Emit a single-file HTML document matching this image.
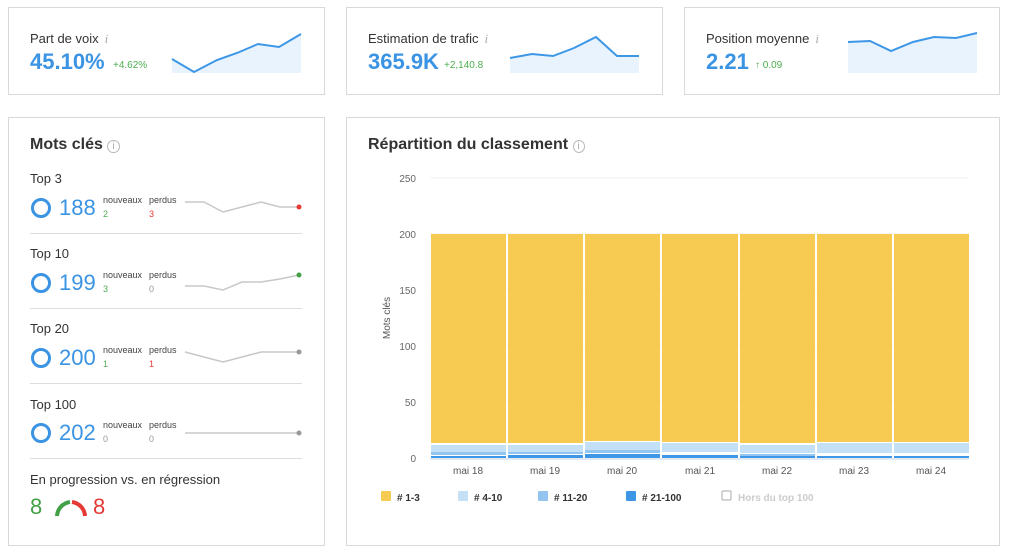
<!DOCTYPE html><html><head><meta charset="utf-8"><style>
body{margin:0;width:1010px;height:553px;background:#fff;font-family:"Liberation Sans",sans-serif;position:relative;overflow:hidden}
.card{position:absolute;border:1px solid #d9d9d9;background:#fff;box-sizing:border-box}
.t{position:absolute;font-size:13px;color:#333}
.big{position:absolute;font-size:22px;font-weight:bold;color:#3a93e3}
.d{position:absolute;font-size:10px;color:#4caf50}
.i{color:#aaa;font-style:italic;font-family:"Liberation Serif",serif;font-size:13px;margin-left:6px}
.sm{position:absolute;font-size:9px;color:#444}
.hr{position:absolute;left:30px;width:272px;height:1px;background:#ddd}
.ring{position:absolute;width:14px;height:14px;border:3px solid #3a93e3;border-radius:50%}
.num{position:absolute;font-size:22px;color:#3a93e3}
</style></head><body>
<div class="card" style="left:8px;top:7px;width:317px;height:88px"></div>
<div class="card" style="left:346px;top:7px;width:317px;height:88px"></div>
<div class="card" style="left:684px;top:7px;width:316px;height:88px"></div>
<div class="t" style="left:30px;top:31px">Part de voix<span class="i">i</span></div>
<div class="big" style="left:30px;top:49px">45.10%</div><div class="d" style="left:113px;top:60px">+4.62%</div>
<div class="t" style="left:368px;top:31px">Estimation de trafic<span class="i">i</span></div>
<div class="big" style="left:368px;top:49px">365.9K</div><div class="d" style="left:444px;top:60px">+2,140.8</div>
<div class="t" style="left:706px;top:31px">Position moyenne<span class="i">i</span></div>
<div class="big" style="left:706px;top:49px">2.21</div><div class="d" style="left:755px;top:60px">↑ 0.09</div>
<svg style="position:absolute;left:0;top:0" width="1010" height="553">
<g fill="#e8f3fd" stroke="none">
<polygon points="172,59 194,72 217,60 237,53 258,44 279,47 301,34 301,73 172,73"/>
<polygon points="510,58 532,54 553,56 574,48 596,37 617,56 639,56 639,73 510,73"/>
<polygon points="848,42 870,41 891,51 913,42 934,37 956,38 977,33 977,73 848,73"/>
</g>
<g fill="none" stroke="#3d97e6" stroke-width="2">
<polyline points="172,59 194,72 217,60 237,53 258,44 279,47 301,34"/>
<polyline points="510,58 532,54 553,56 574,48 596,37 617,56 639,56"/>
<polyline points="848,42 870,41 891,51 913,42 934,37 956,38 977,33"/>
</g>
<g fill="none" stroke="#c8c8c8" stroke-width="1.5">
<polyline points="185,202 204,202 223,212 242,207 261,202 280,207 299,207"/>
<polyline points="185,286 204,286 223,290 242,282 261,282 280,279 299,275"/>
<polyline points="185,352 204,357 223,362 242,357 261,352 280,352 299,352"/>
<polyline points="185,433 299,433"/>
</g>
<circle cx="299" cy="207" r="2.5" fill="#e53935"/><circle cx="299" cy="275" r="2.5" fill="#43a047"/>
<circle cx="299" cy="352" r="2.5" fill="#999"/><circle cx="299" cy="433" r="2.5" fill="#999"/>
<path d="M57,516 A15,15 0 0 1 70,502" stroke="#43a047" stroke-width="4" fill="none"/>
<path d="M72,502 A15,15 0 0 1 85,516" stroke="#e53935" stroke-width="4" fill="none"/>
<g stroke="#f0f0f0" stroke-width="1"><line x1="430" x2="969" y1="178" y2="178"/><line x1="430" x2="969" y1="234" y2="234"/><line x1="430" x2="969" y1="290" y2="290"/><line x1="430" x2="969" y1="346" y2="346"/><line x1="430" x2="969" y1="402" y2="402"/></g>
<g font-size="10" fill="#666" text-anchor="end" font-family="Liberation Sans"><text x="416" y="182">250</text><text x="416" y="238">200</text><text x="416" y="294">150</text><text x="416" y="350">100</text><text x="416" y="406">50</text><text x="416" y="462">0</text></g>
<text x="390" y="318" font-size="10" fill="#555" transform="rotate(-90 390 318)" text-anchor="middle" font-family="Liberation Sans">Mots clés</text>
<g>
<rect x="431" y="234" width="75" height="209" fill="#f7cb52"/><rect x="431" y="445" width="75" height="7" fill="#c3e0f7"/><rect x="431" y="452" width="75" height="3" fill="#92c5ef"/><rect x="431" y="456" width="75" height="2" fill="#3d97e6"/>
<rect x="508" y="234" width="75" height="209" fill="#f7cb52"/><rect x="508" y="445" width="75" height="7" fill="#c3e0f7"/><rect x="508" y="452" width="75" height="2" fill="#92c5ef"/><rect x="508" y="455" width="75" height="3" fill="#3d97e6"/>
<rect x="585" y="234" width="75" height="207" fill="#f7cb52"/><rect x="585" y="442" width="75" height="8" fill="#c3e0f7"/><rect x="585" y="450" width="75" height="3" fill="#92c5ef"/><rect x="585" y="454" width="75" height="4" fill="#3d97e6"/>
<rect x="662" y="234" width="76" height="208" fill="#f7cb52"/><rect x="662" y="443" width="76" height="9" fill="#c3e0f7"/><rect x="662" y="455" width="76" height="3" fill="#3d97e6"/>
<rect x="740" y="234" width="75" height="209" fill="#f7cb52"/><rect x="740" y="445" width="75" height="8" fill="#c3e0f7"/><rect x="740" y="454" width="75" height="2" fill="#92c5ef"/><rect x="740" y="456" width="75" height="2" fill="#3d97e6"/>
<rect x="817" y="234" width="75" height="208" fill="#f7cb52"/><rect x="817" y="443" width="75" height="10" fill="#c3e0f7"/><rect x="817" y="456" width="75" height="2" fill="#3d97e6"/>
<rect x="894" y="234" width="75" height="208" fill="#f7cb52"/><rect x="894" y="443" width="75" height="10" fill="#c3e0f7"/><rect x="894" y="456" width="75" height="2" fill="#3d97e6"/>
</g>
<line x1="430" x2="969" y1="459" y2="459" stroke="#c8d4e8"/>
<g font-size="10" fill="#555" text-anchor="middle" font-family="Liberation Sans"><text x="468" y="474">mai 18</text><text x="545" y="474">mai 19</text><text x="622" y="474">mai 20</text><text x="700" y="474">mai 21</text><text x="777" y="474">mai 22</text><text x="854" y="474">mai 23</text><text x="931" y="474">mai 24</text></g>
<g font-size="10" font-weight="bold" fill="#333" font-family="Liberation Sans">
<rect x="381" y="491" width="10" height="10" rx="1" fill="#f7cb52"/><text x="397" y="501"># 1-3</text>
<rect x="458" y="491" width="10" height="10" rx="1" fill="#c3e0f7"/><text x="474" y="501"># 4-10</text>
<rect x="538" y="491" width="10" height="10" rx="1" fill="#92c5ef"/><text x="554" y="501"># 11-20</text>
<rect x="626" y="491" width="10" height="10" rx="1" fill="#3d97e6"/><text x="642" y="501"># 21-100</text>
<rect x="722" y="491" width="9" height="9" rx="1" fill="#fff" stroke="#aaa"/><text x="738" y="501" fill="#ccc">Hors du top 100</text></g>
</svg>
<div class="card" style="left:8px;top:117px;width:317px;height:429px;background:none"></div>
<div class="card" style="left:346px;top:117px;width:654px;height:429px;background:none"></div>
<div class="t" style="left:30px;top:136px;font-size:16px;font-weight:bold;color:#333">Mots clés <span style="font-size:10px;color:#aaa;border:1px solid #bbb;border-radius:50%;padding:0 4px;font-weight:normal">i</span></div>
<div class="t" style="left:368px;top:136px;font-size:16px;font-weight:bold;color:#333">Répartition du classement <span style="font-size:10px;color:#aaa;border:1px solid #bbb;border-radius:50%;padding:0 4px;font-weight:normal">i</span></div>
<div class="t" style="left:30px;top:171px">Top 3</div><div class="ring" style="left:31px;top:198px"></div><div class="num" style="left:59px;top:195px">188</div>
<div class="sm" style="left:103px;top:195px">nouveaux</div><div class="sm" style="left:149px;top:195px">perdus</div><div class="sm" style="left:103px;top:209px;color:#4caf50">2</div><div class="sm" style="left:149px;top:209px;color:#e53935">3</div>
<div class="hr" style="top:233px"></div>
<div class="t" style="left:30px;top:246px">Top 10</div><div class="ring" style="left:31px;top:273px"></div><div class="num" style="left:59px;top:270px">199</div>
<div class="sm" style="left:103px;top:270px">nouveaux</div><div class="sm" style="left:149px;top:270px">perdus</div><div class="sm" style="left:103px;top:284px;color:#4caf50">3</div><div class="sm" style="left:149px;top:284px;color:#999">0</div>
<div class="hr" style="top:308px"></div>
<div class="t" style="left:30px;top:321px">Top 20</div><div class="ring" style="left:31px;top:348px"></div><div class="num" style="left:59px;top:345px">200</div>
<div class="sm" style="left:103px;top:345px">nouveaux</div><div class="sm" style="left:149px;top:345px">perdus</div><div class="sm" style="left:103px;top:359px;color:#4caf50">1</div><div class="sm" style="left:149px;top:359px;color:#e53935">1</div>
<div class="hr" style="top:383px"></div>
<div class="t" style="left:30px;top:397px">Top 100</div><div class="ring" style="left:31px;top:423px"></div><div class="num" style="left:59px;top:420px">202</div>
<div class="sm" style="left:103px;top:420px">nouveaux</div><div class="sm" style="left:149px;top:420px">perdus</div><div class="sm" style="left:103px;top:434px;color:#999">0</div><div class="sm" style="left:149px;top:434px;color:#999">0</div>
<div class="hr" style="top:458px"></div>
<div class="t" style="left:30px;top:472px">En progression vs. en régression</div>
<div class="num" style="left:30px;top:494px;color:#43a047">8</div><div class="num" style="left:93px;top:494px;color:#e53935">8</div>
</body></html>
